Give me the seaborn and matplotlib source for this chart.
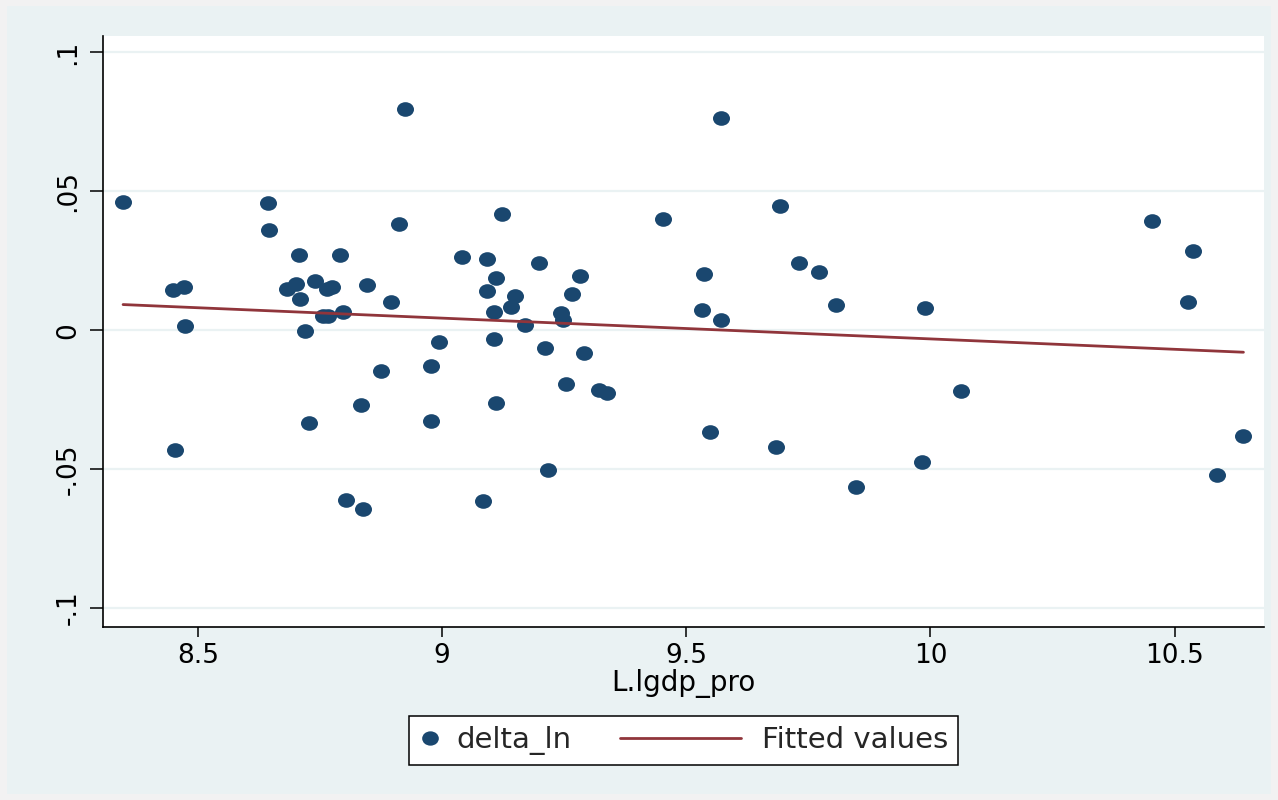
import numpy as np
import pandas as pd
import matplotlib
matplotlib.use("Agg")
import matplotlib.pyplot as plt
import seaborn as sns
from matplotlib.path import Path
from matplotlib.transforms import Affine2D
from matplotlib.lines import Line2D
from matplotlib.patches import Rectangle
from matplotlib.legend_handler import HandlerLine2D

# ---------------- data ----------------
lag_lgdp_pro = [
    8.347, 8.449, 8.471, 8.474, 8.454, 8.644, 8.645, 8.707, 8.791, 8.911,
    8.682, 8.701, 8.710, 8.740, 8.764, 8.775, 8.846, 8.896, 8.757, 8.767,
    8.797, 8.719, 8.993, 8.876, 8.978, 8.728, 8.835, 8.978, 8.804, 8.839,
    8.925, 9.123, 9.453, 9.040, 9.092, 9.199, 9.111, 9.283, 9.092, 9.150,
    9.141, 9.267, 9.107, 9.244, 9.247, 9.169, 9.107, 9.211, 9.290, 9.110,
    9.254, 9.322, 9.338, 9.084, 9.218, 9.571, 9.537, 9.532, 9.571, 9.692,
    9.730, 9.772, 9.807, 9.549, 9.683, 9.848, 9.983, 9.990, 10.063, 10.453,
    10.538, 10.527, 10.587, 10.641,
]
delta_ln = [
    0.0461, 0.0145, 0.0155, 0.0015, -0.0431, 0.0458, 0.0360, 0.0270, 0.0272, 0.0384,
    0.0150, 0.0165, 0.0113, 0.0176, 0.0147, 0.0157, 0.0164, 0.0102, 0.0050, 0.0051,
    0.0066, -0.0002, -0.0043, -0.0148, -0.0129, -0.0334, -0.0269, -0.0327, -0.0611, -0.0642,
    0.0795, 0.0419, 0.0399, 0.0263, 0.0257, 0.0241, 0.0188, 0.0195, 0.0141, 0.0124,
    0.0085, 0.0129, 0.0065, 0.0061, 0.0037, 0.0020, -0.0032, -0.0063, -0.0081, -0.0262,
    -0.0195, -0.0215, -0.0227, -0.0616, -0.0502, 0.0763, 0.0201, 0.0073, 0.0036, 0.0448,
    0.0242, 0.0209, 0.0090, -0.0367, -0.0420, -0.0563, -0.0475, 0.0080, -0.0218, 0.0392,
    0.0284, 0.0102, -0.0520, -0.0380,
]
x_ticks = [8.5, 9, 9.5, 10, 10.5]
x_tick_labels = ["8.5", "9", "9.5", "10", "10.5"]
y_ticks = [-0.1, -0.05, 0, 0.05, 0.1]
y_tick_labels = ["-.1", "-.05", "0", ".05", ".1"]
x_title = "L.lgdp_pro"
legend_labels = ["delta_ln", "Fitted values"]

df = pd.DataFrame({"lag_lgdp_pro": lag_lgdp_pro, "delta_ln": delta_ln})

# ---------------- style ----------------
sns.set_style("ticks")
plt.rcParams["font.family"] = ["DejaVu Sans"]

NAVY = "#1A476F"
MAROON = "#90353B"
REGION = "#EAF2F3"

W, H = 1278, 800
fig = plt.figure(figsize=(W / 100, H / 100), dpi=100)
fig.patch.set_facecolor("#F2F2F2")
fig.patches.append(Rectangle((7 / W, 6 / H), (W - 14) / W, (H - 12) / H,
                             transform=fig.transFigure, facecolor=REGION,
                             edgecolor="none", zorder=-10))

ax = fig.add_axes([103 / W, 1 - 627 / H, (1264 - 103) / W, (627 - 36) / H])
ax.set_facecolor("white")

ell = Affine2D().scale(1.0, 0.86).transform_path(Path.unit_circle())

sns.scatterplot(data=df, x="lag_lgdp_pro", y="delta_ln", ax=ax, marker=ell,
                s=150, color=NAVY, linewidth=0, zorder=3, legend=False)
sns.regplot(data=df, x="lag_lgdp_pro", y="delta_ln", ax=ax, scatter=False,
            ci=None, truncate=True, color=MAROON,
            line_kws=dict(lw=2.0, zorder=4))

ax.set_xlim(8.3059, 10.6831)
ax.set_ylim(-0.10684, 0.10594)
ax.set_xticks(x_ticks)
ax.set_xticklabels(x_tick_labels)
ax.set_yticks(y_ticks)
ax.set_yticklabels(y_tick_labels)
ax.yaxis.grid(True, color=REGION, lw=1.6, zorder=0)
ax.xaxis.grid(False)
ax.set_axisbelow(True)

for s in ["top", "right"]:
    ax.spines[s].set_visible(False)
for s in ["left", "bottom"]:
    ax.spines[s].set_color("black")
    ax.spines[s].set_linewidth(1.2)

ax.tick_params(axis="x", length=7.2, width=1.1, color="black",
               labelsize=19, pad=4, labelcolor="black")
ax.tick_params(axis="y", length=9.4, width=1.1, color="black",
               labelsize=19, pad=6, labelcolor="black", labelrotation=90)
for lab in ax.get_yticklabels():
    lab.set_va("center")
    lab.set_ha("right")

ax.set_xlabel(x_title, fontsize=20, labelpad=0, color="black")
ax.set_ylabel("")


class LongLine(HandlerLine2D):
    def create_artists(self, legend, orig_handle, xdescent, ydescent,
                       width, height, fontsize, trans):
        y = height / 2 - ydescent
        ln = Line2D([-xdescent - 74.9, -xdescent + width - 4.6], [y, y])
        self.update_prop(ln, orig_handle, legend)
        ln.set_transform(trans)
        return [ln]


h_pts = Line2D([], [], linestyle="none", marker=ell, markersize=12,
               markerfacecolor=NAVY, markeredgewidth=0)
h_fit = Line2D([], [], color=MAROON, lw=2.0)
leg = fig.legend([h_pts, h_fit], legend_labels, ncol=2, loc="center",
                 bbox_to_anchor=(683.5 / W, 1 - 740.5 / H),
                 bbox_transform=fig.transFigure, fontsize=21,
                 frameon=True, fancybox=False, framealpha=1,
                 edgecolor="black", facecolor="white",
                 handlelength=0.8, handletextpad=0.5, borderpad=0.33,
                 columnspacing=5.23, handler_map={h_fit: LongLine()})
leg.get_frame().set_linewidth(1.1)

fig.savefig("out.png", dpi=100, facecolor=fig.get_facecolor())
